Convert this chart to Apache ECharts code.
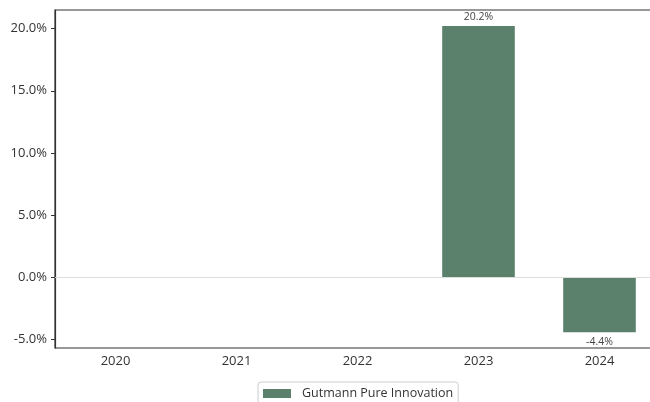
<!DOCTYPE html>
<html>
<head>
<meta charset="utf-8">
<script src="https://cdn.jsdelivr.net/npm/echarts@6/dist/echarts.min.js"></script>
<style>html,body{margin:0;padding:0;background:#fff}#c{width:650px;height:402px}</style>
</head>
<body>
<div id="c"></div>
<script>
const categories = ['2020', '2021', '2022', '2023', '2024'];
const seriesName = 'Gutmann Pure Innovation';
const values = [null, null, null, 20.2, -4.4];
const yTicks = [-5, 0, 5, 10, 15, 20];

const FONT = '"Open Sans", "Noto Sans", sans-serif';
const chart = echarts.init(document.getElementById('c'));
chart.setOption({
  animation: false,
  textStyle: { fontFamily: FONT },
  grid: { left: 55, width: 605, top: 10, bottom: 54, containLabel: false,
    outerBoundsMode: 'none',
    show: true, borderColor: '#333', borderWidth: 1.2, backgroundColor: 'transparent' },
  legend: {
    data: [seriesName],
    left: 258, top: 382,
    itemWidth: 28, itemHeight: 9, itemGap: 10,
    padding: [5, 5, 10, 5],
    borderColor: '#cccccc', borderWidth: 1, borderRadius: 3,
    icon: 'rect',
    textStyle: { fontSize: 12.5, color: '#333', fontFamily: FONT, padding: [0, 0, 0, 6] }
  },
  xAxis: {
    type: 'category',
    data: categories,
    axisLine: { lineStyle: { color: '#333', width: 1.2 } },
    axisTick: { alignWithLabel: true, length: 4, lineStyle: { color: '#333' } },
    axisLabel: { color: '#333', fontSize: 13, margin: 7, fontFamily: FONT },
    splitLine: { show: false }
  },
  yAxis: {
    type: 'value',
    min: -5.67, max: 21.49,
    interval: 5,
    axisLine: { show: true, lineStyle: { color: '#333', width: 1.2 } },
    axisTick: { show: true, length: 4, lineStyle: { color: '#333' },
      customValues: yTicks },
    axisLabel: { color: '#333', fontSize: 13, margin: 8, fontFamily: FONT,
      customValues: yTicks,
      formatter: v => v.toFixed(1) + '%' },
    splitLine: { show: false }
  },
  series: [{
    name: seriesName,
    type: 'bar',
    data: values,
    barWidth: '60%',
    itemStyle: { color: '#5b806c' },
    label: {
      show: true,
      formatter: p => p.value == null ? '' : p.value.toFixed(1) + '%',
      position: 'outside',
      fontSize: 10.5, color: '#444', distance: 4, fontFamily: FONT
    },
    markLine: {
      silent: true, symbol: 'none', label: { show: false },
      lineStyle: { color: '#dddddd', width: 1, type: 'solid' },
      data: [{ yAxis: 0 }]
    }
  }]
});
</script>
</body>
</html>
